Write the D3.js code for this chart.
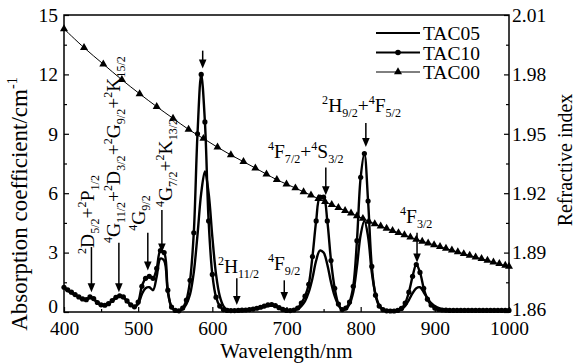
<!DOCTYPE html>
<html>
<head>
<meta charset="utf-8">
<script src="https://cdn.jsdelivr.net/npm/d3@7"></script>
<style>
  body { margin: 0; background: #fff; }
  svg text { font-family: "Liberation Serif", "Times New Roman", serif; fill: #000; }
</style>
</head>
<body>
<div id="chart"></div>
<script>
// wavelength grid of the absorption spectra (nm)
const wavelengths = [
  400,405,410,415,420,425,430,435,440,445,450,455,460,465,470,475,480,485,490,495,
  500,505,510,515,520,525,530,535,540,545,550,555,560,565,570,575,580,585,590,595,
  600,605,610,615,620,625,630,635,640,645,650,655,660,665,670,675,680,685,690,695,
  700,705,710,715,720,725,730,735,740,745,750,755,760,765,770,775,780,785,790,795,
  800,805,810,815,820,825,830,835,840,845,850,855,860,865,870,875,880,885,890,895,
  900,905,910,915,920,925,930,935,940,945,950,955,960,965,970,975,980,985,990,995,1000
];
// absorption coefficient (cm^-1)
const tac10 = [
  1.25,1.12,1.0,0.88,0.76,0.66,0.62,0.76,0.68,0.48,0.36,0.34,0.42,0.58,0.74,0.82,0.76,0.56,0.36,0.26,
  0.5,1.3,1.7,1.8,1.7,2.2,3.1,3.0,1.1,0.25,0.08,0.06,0.2,0.6,1.6,4.0,9.0,12.0,9.6,4.6,
  1.9,0.75,0.3,0.12,0.08,0.07,0.07,0.08,0.09,0.1,0.12,0.15,0.19,0.24,0.3,0.36,0.38,0.32,0.22,0.13,
  0.08,0.07,0.1,0.2,0.45,0.8,1.4,2.8,4.6,5.8,5.8,4.6,2.6,1.2,0.4,0.12,0.2,0.5,1.3,3.6,
  6.8,8.0,5.6,2.3,0.85,0.3,0.12,0.06,0.05,0.05,0.08,0.18,0.45,1.0,1.8,2.4,2.0,1.2,0.65,0.35,
  0.2,0.13,0.1,0.09,0.08,0.08,0.08,0.08,0.08,0.08,0.08,0.08,0.08,0.08,0.08,0.08,0.08,0.08,0.08,0.08,0.08
];
const tac05 = [
  1.2,1.08,0.96,0.85,0.74,0.64,0.6,0.72,0.65,0.46,0.34,0.32,0.4,0.55,0.7,0.78,0.72,0.54,0.35,0.25,
  0.4,0.9,1.2,1.25,1.1,1.8,2.7,2.6,1.0,0.25,0.08,0.06,0.15,0.4,0.9,2.0,3.9,6.0,7.1,6.0,
  3.8,1.9,0.8,0.3,0.12,0.08,0.07,0.08,0.09,0.1,0.12,0.14,0.17,0.21,0.26,0.3,0.32,0.28,0.2,0.12,
  0.08,0.07,0.09,0.15,0.3,0.55,1.0,1.7,2.6,3.1,3.0,2.4,1.5,0.8,0.35,0.12,0.15,0.4,1.0,2.3,
  3.9,4.6,3.8,2.0,0.9,0.35,0.14,0.07,0.05,0.05,0.07,0.14,0.3,0.6,0.95,1.2,1.25,1.0,0.7,0.45,
  0.3,0.2,0.14,0.1,0.08,0.08,0.08,0.08,0.08,0.08,0.08,0.08,0.08,0.08,0.08,0.08,0.08,0.08,0.08,0.08,0.08
];
// refractive index of TAC00
const tac00Wave = [
  400,427,453,478,502,525,547,568,588,607,625,642,658,673,687,700,712,723,733,743,
  752,761,770,779,787,795,803,811,819,827,835,843,851,859,867,875,883,891,899,907,
  915,923,931,939,947,955,963,971,979,987,995,1000
];
const tac00Index = [
  2.0030,1.9935,1.9852,1.9773,1.9702,1.9637,1.9578,1.9522,1.9476,1.9432,1.9393,1.9359,1.9327,1.9296,1.9268,1.9246,1.9226,1.9207,1.9190,1.9172,
  1.9157,1.9142,1.9127,1.9112,1.9099,1.9085,1.9072,1.9058,1.9045,1.9033,1.9022,1.9011,1.9000,1.8989,1.8978,1.8967,1.8957,1.8948,1.8939,1.8930,
  1.8921,1.8912,1.8903,1.8894,1.8886,1.8877,1.8869,1.8861,1.8852,1.8844,1.8835,1.8830
];
const xTicks = [400,500,600,700,800,900,1000];
const yTicks = [0,3,6,9,12,15];
const nTicks = [1.86,1.89,1.92,1.95,1.98,2.01];
const seriesNames = ['TAC05','TAC10','TAC00'];

// energy-level labels: text, wavelength, absorption value, rotated?
const levelLabels = [
  ['^2D_5/2+^2P_1/2', 440, 2.93, true],
  ['^4G_11/2+^2D_3/2+^2G_9/2+^2K_15/2', 475.5, 3.48, true],
  ['^4G_9/2', 509, 4.1, true],
  ['^4G_7/2+^2K_13/2', 545.6, 5.3, true],
  ['^2H_9/2+^4F_5/2', 748, 10.1, false],
  ['^4F_7/2+^4S_3/2', 675, 7.78, false],
  ['^2H_11/2', 607.6, 1.97, false],
  ['^4F_9/2', 675, 2.1, false],
  ['^4F_3/2', 853, 4.5, false]
];
// arrows: wavelength, tail value, tip value
const arrows = [
  [437, 3.28, 1.0], [474, 3.5, 1.0], [513, 4.0, 2.1], [532, 5.15, 3.0],
  [587, 13.2, 12.3], [633, 1.7, 0.35], [697, 1.6, 0.55], [753, 7.3, 5.9],
  [807, 9.55, 8.33], [876, 4.0, 2.5]
];

const W = 582, H = 363;
const margin = {top: 15, right: 73, bottom: 51, left: 64};
const iw = W - margin.left - margin.right, ih = H - margin.top - margin.bottom;
const FS = 19.5;

const svg = d3.select('#chart').append('svg').attr('width', W).attr('height', H);
const g = svg.append('g').attr('transform', `translate(${margin.left},${margin.top})`);

const x = d3.scaleLinear().domain([400, 1000]).range([0, iw]);
const y = d3.scaleLinear().domain([0, 15]).range([ih, 0]);
const yn = d3.scaleLinear().domain([1.86, 2.01]).range([ih, 0]);

function rich(sel, str, size) {
  const t = sel.append('text').attr('font-size', size);
  (str.match(/\^[^A-Z+]+|_[^A-Z+^]+|[^_^]+/g) || []).forEach(tok => {
    if (tok[0] === '^') {
      t.append('tspan').text(tok.slice(1)).attr('font-size', size * 0.62).attr('baseline-shift', size * 0.42);
    } else if (tok[0] === '_') {
      t.append('tspan').text(tok.slice(1)).attr('font-size', size * 0.62).attr('baseline-shift', -size * 0.28);
    } else {
      t.append('tspan').text(tok);
    }
  });
  return t;
}

// axes
const axB = g.append('g').attr('transform', `translate(0,${ih})`)
  .call(d3.axisBottom(x).tickValues(xTicks).tickSize(-5).tickSizeOuter(0).tickPadding(9).tickFormat(d3.format('d')));
g.append('g').attr('transform', `translate(0,${ih})`)
  .call(d3.axisBottom(x).tickValues([450,550,650,750,850,950]).tickSize(-3).tickSizeOuter(0).tickFormat(''));
const axL = g.append('g')
  .call(d3.axisLeft(y).tickValues(yTicks).tickSize(-5).tickSizeOuter(0).tickPadding(6));
g.append('g')
  .call(d3.axisLeft(y).tickValues([1.5,4.5,7.5,10.5,13.5]).tickSize(-3).tickSizeOuter(0).tickFormat(''));
const axR = g.append('g').attr('transform', `translate(${iw},0)`)
  .call(d3.axisRight(yn).tickValues(nTicks).tickSize(-5).tickSizeOuter(0).tickPadding(3).tickFormat(d3.format('.2f')));
g.append('g').attr('transform', `translate(${iw},0)`)
  .call(d3.axisRight(yn).tickValues([1.875,1.905,1.935,1.965,1.995]).tickSize(-3).tickSizeOuter(0).tickFormat(''));
g.selectAll('.domain').remove();
g.selectAll('.tick line').attr('stroke', '#000').attr('stroke-width', 1.2);
[axB, axL, axR].forEach(a => a.selectAll('text').attr('font-size', FS).attr('font-family', '"Liberation Serif", serif'));
// lift the bottom-most side labels a little so they clear the wavelength labels
axL.selectAll('.tick').filter(d => d === 0).select('text').attr('dy', '0.05em');
axR.selectAll('.tick').filter(d => d === 1.86).select('text').attr('dy', '0.2em');

g.append('rect').attr('width', iw).attr('height', ih)
  .attr('fill', 'none').attr('stroke', '#000').attr('stroke-width', 1.5);

// titles
svg.append('text').attr('x', margin.left + iw / 2).attr('y', 358)
  .attr('text-anchor', 'middle').attr('font-size', 21).text('Wavelength/nm');
rich(svg.append('g').attr('transform', 'translate(27,204) rotate(-90)'), 'Absorption coefficient/cm^-1', 23)
  .attr('text-anchor', 'middle');
svg.append('text').attr('transform', 'translate(572,160) rotate(-90)')
  .attr('text-anchor', 'middle').attr('font-size', 20).text('Refractive index');

// spectra
const pts10 = wavelengths.map((w, i) => [w, tac10[i]]);
const pts05 = wavelengths.map((w, i) => [w, tac05[i]]);
const ptsN = tac00Wave.map((w, i) => [w, tac00Index[i]]);

const absLine = d3.line().x(d => x(d[0])).y(d => y(d[1])).curve(d3.curveCatmullRom);
const nLine = d3.line().x(d => x(d[0])).y(d => yn(d[1])).curve(d3.curveCatmullRom);
const tri = d3.symbol().type(d3.symbolTriangle).size(28);

const plot = g.append('g');
plot.append('path').datum(ptsN).attr('d', nLine)
  .attr('fill', 'none').attr('stroke', '#000').attr('stroke-width', 1);
plot.selectAll('.tri').data(ptsN).join('path').attr('class', 'tri')
  .attr('d', tri).attr('transform', d => `translate(${x(d[0])},${yn(d[1])})`);

plot.append('path').datum(pts05).attr('d', absLine)
  .attr('fill', 'none').attr('stroke', '#000').attr('stroke-width', 2.4);
plot.append('path').datum(pts10).attr('d', absLine)
  .attr('fill', 'none').attr('stroke', '#000').attr('stroke-width', 2.4);
plot.selectAll('.dot').data(pts10).join('circle').attr('class', 'dot')
  .attr('cx', d => x(d[0])).attr('cy', d => y(d[1])).attr('r', 2.6);

// arrows
const arrowG = g.append('g');
arrows.forEach(([w, a, b]) => {
  const px = x(w), y0 = y(a), y1 = y(b);
  arrowG.append('line').attr('x1', px).attr('x2', px).attr('y1', y0).attr('y2', y1 - 8)
    .attr('stroke', '#000').attr('stroke-width', 1.5);
  arrowG.append('path').attr('d', `M${px - 3.8},${y1 - 9}L${px + 3.8},${y1 - 9}L${px},${y1}Z`);
});

// level labels
levelLabels.forEach(([str, w, v, rot]) => {
  const grp = g.append('g').attr('transform',
    `translate(${x(w)},${y(v)})` + (rot ? ' rotate(-90)' : ''));
  rich(grp, str, FS);
});

// legend
const legend = svg.append('g');
seriesNames.forEach((name, i) => {
  const ly = 33 + i * 19.5;
  legend.append('line').attr('x1', 376).attr('x2', 420).attr('y1', ly).attr('y2', ly)
    .attr('stroke', '#000').attr('stroke-width', i === 2 ? 1 : 2.2);
  if (i === 1) legend.append('circle').attr('cx', 398).attr('cy', ly).attr('r', 2.8);
  if (i === 2) legend.append('path').attr('d', tri).attr('transform', `translate(398,${ly})`);
  legend.append('text').attr('x', 423).attr('y', ly + 7).attr('font-size', FS).text(name);
});
</script>
</body>
</html>
